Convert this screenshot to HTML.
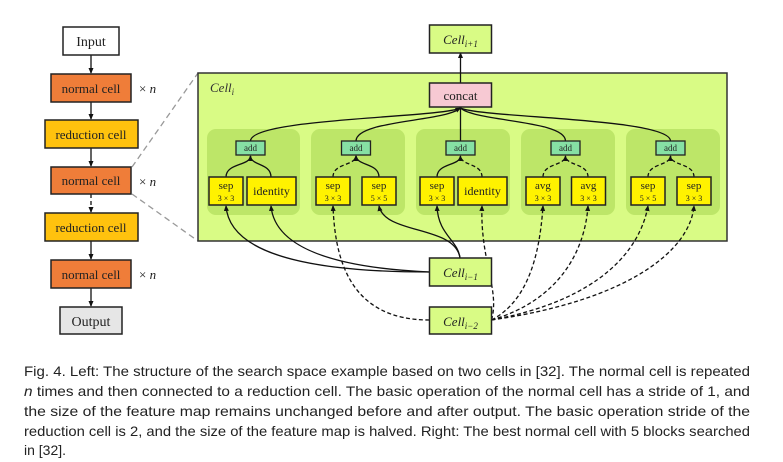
<!DOCTYPE html>
<html><head><meta charset="utf-8"><style>
html,body{margin:0;padding:0;background:#fff;}
svg{display:block;}
text{font-family:"Liberation Serif",serif;}
.cap{font-family:"Liberation Sans",sans-serif;font-size:14px;fill:#222;}
</style></head><body>
<svg width="783" height="462" viewBox="0 0 783 462" xmlns="http://www.w3.org/2000/svg">
<defs>
<marker id="ar" markerWidth="6" markerHeight="6" refX="5" refY="3" orient="auto" markerUnits="userSpaceOnUse"><path d="M0,0.5 L6,3 L0,5.5 z" fill="#111"/></marker>
</defs>
<!-- left column -->
<g stroke="#111" stroke-width="1.3" fill="none">
<line x1="91" y1="55" x2="91" y2="73" marker-end="url(#ar)"/>
<line x1="91" y1="102" x2="91" y2="119" marker-end="url(#ar)"/>
<line x1="91" y1="148" x2="91" y2="166" marker-end="url(#ar)"/>
<line x1="91" y1="194" x2="91" y2="212" stroke-dasharray="4,3" marker-end="url(#ar)"/>
<line x1="91" y1="241" x2="91" y2="259" marker-end="url(#ar)"/>
<line x1="91" y1="288" x2="91" y2="306" marker-end="url(#ar)"/>
</g>
<g stroke="#999" stroke-width="1.3" stroke-dasharray="6,4">
<line x1="132" y1="167" x2="198" y2="73"/>
<line x1="132" y1="194" x2="198" y2="241"/>
</g>
<g stroke="#222" stroke-width="1.5" font-size="13" text-anchor="middle">
<rect x="63" y="27" width="56" height="28" fill="#fff"/>
<rect x="51" y="74" width="80" height="28" fill="#ef7d39"/>
<rect x="45" y="120" width="93" height="28" fill="#ffc20e"/>
<rect x="51" y="167" width="80" height="27" fill="#ef7d39"/>
<rect x="45" y="213" width="93" height="28" fill="#ffc20e"/>
<rect x="51" y="260" width="80" height="28" fill="#ef7d39"/>
<rect x="60" y="307" width="62" height="27" fill="#e6e6e6"/>
</g>
<g font-size="13" text-anchor="middle" fill="#222">
<text x="91" y="46" font-size="14">Input</text>
<text x="91" y="93">normal cell</text>
<text x="91" y="139">reduction cell</text>
<text x="91" y="185">normal cell</text>
<text x="91" y="232">reduction cell</text>
<text x="91" y="279">normal cell</text>
<text x="91" y="326" font-size="14">Output</text>
</g>
<g font-size="13" fill="#222">
<text x="139" y="93">× <tspan font-style="italic">n</tspan></text>
<text x="139" y="186">× <tspan font-style="italic">n</tspan></text>
<text x="139" y="279">× <tspan font-style="italic">n</tspan></text>
</g>

<!-- right -->
<rect x="198" y="73" width="529" height="168" fill="#d9fb85" stroke="#333" stroke-width="1.5"/>
<g fill="#bde668">
<rect x="207" y="129" width="93" height="86" rx="9"/>
<rect x="311" y="129" width="94" height="86" rx="9"/>
<rect x="416" y="129" width="94" height="86" rx="9"/>
<rect x="521" y="129" width="94" height="86" rx="9"/>
<rect x="626" y="129" width="94" height="86" rx="9"/>
</g>
<text x="210" y="92" font-size="13" font-style="italic" fill="#333">Cell<tspan font-size="9" dy="3">i</tspan></text>

<g stroke="#111" stroke-width="1.3" fill="none">
<line x1="460.5" y1="83" x2="460.5" y2="53" marker-end="url(#ar)"/>
<!-- concat to adds -->
<path d="M250.5,141 C250.5,118 440,118 460.5,108" marker-end="url(#ar)"/>
<path d="M356,141 C356,120 445,122 460.5,108"/>
<path d="M460.5,141 L460.5,108"/>
<path d="M565.5,141 C565.5,120 476,122 460.5,108"/>
<path d="M670.5,141 C670.5,118 481,118 460.5,108"/>
<!-- op to add solid -->
<path d="M226,177 C226,163 250,166 250.5,156" marker-end="url(#ar)"/>
<path d="M271,177 C271,163 251,166 250.5,156"/>
<path d="M379,177 C379,163 357,166 356,156" marker-end="url(#ar)"/>
<path d="M437,177 C437,163 460,166 460.5,156" marker-end="url(#ar)"/>
<!-- cell i-1 solid -->
<path d="M429.5,272 C330,272 230,260 226,206" marker-end="url(#ar)"/>
<path d="M429.5,272 C340,268 275,250 271,206" marker-end="url(#ar)"/>
<path d="M460,258 C455,225 385,235 379,206" marker-end="url(#ar)"/>
<path d="M460,258 C458,240 438,235 437,206" marker-end="url(#ar)"/>
</g>
<g stroke="#111" stroke-width="1.3" fill="none" stroke-dasharray="4,2.5">
<path d="M333,177 C333,163 355,166 356,156" marker-end="url(#ar)"/>
<path d="M482,177 C482,163 461,166 460.5,156"/>
<path d="M543,177 C543,163 565,166 565.5,156" marker-end="url(#ar)"/>
<path d="M588,177 C588,163 566,166 565.5,156"/>
<path d="M648,177 C648,163 670,166 670.5,156" marker-end="url(#ar)"/>
<path d="M694,177 C694,163 671,166 670.5,156"/>
<!-- cell i-2 -->
<path d="M429.5,320 C350,320 335,260 333,206" marker-end="url(#ar)"/>
<path d="M491.5,320 C500,290 480,260 482,206" marker-end="url(#ar)"/>
<path d="M491.5,320 C530,300 540,250 543,206" marker-end="url(#ar)"/>
<path d="M491.5,320 C560,300 585,250 588,206" marker-end="url(#ar)"/>
<path d="M491.5,320 C600,300 640,250 648,206" marker-end="url(#ar)"/>
<path d="M491.5,320 C630,300 690,250 694,206" marker-end="url(#ar)"/>
</g>

<g stroke="#222" stroke-width="1.5">
<rect x="429.5" y="25" width="62" height="28" fill="#d9fb85"/>
<rect x="429.5" y="83" width="62" height="24" fill="#f7c9d3"/>
<rect x="429.5" y="258" width="62" height="28" fill="#d9fb85"/>
<rect x="429.5" y="307" width="62" height="27" fill="#d9fb85"/>
</g>
<g stroke="#222" stroke-width="1.3" fill="#86e0a4">
<rect x="236" y="141" width="29" height="14"/>
<rect x="341.5" y="141" width="29" height="14"/>
<rect x="446" y="141" width="29" height="14"/>
<rect x="551" y="141" width="29" height="14"/>
<rect x="656" y="141" width="29" height="14"/>
</g>
<g stroke="#222" stroke-width="1.5" fill="#fff200">
<rect x="209" y="177" width="34" height="28"/>
<rect x="247" y="177" width="49" height="28"/>
<rect x="316" y="177" width="34" height="28"/>
<rect x="362" y="177" width="34" height="28"/>
<rect x="420" y="177" width="34" height="28"/>
<rect x="458" y="177" width="49" height="28"/>
<rect x="526" y="177" width="34" height="28"/>
<rect x="571.5" y="177" width="34" height="28"/>
<rect x="631" y="177" width="34" height="28"/>
<rect x="677" y="177" width="34" height="28"/>
</g>
<g text-anchor="middle" fill="#222">
<g font-size="13" font-style="italic">
<text x="460.5" y="44">Cell<tspan font-size="9" dy="3">i+1</tspan></text>
<text x="460.5" y="277">Cell<tspan font-size="9" dy="3">i−1</tspan></text>
<text x="460.5" y="326">Cell<tspan font-size="9" dy="3">i−2</tspan></text>
</g>
<text x="460.5" y="100" font-size="13">concat</text>
<g font-size="9">
<text x="250.5" y="151">add</text><text x="356" y="151">add</text><text x="460.5" y="151">add</text><text x="565.5" y="151">add</text><text x="670.5" y="151">add</text>
</g>
<g font-size="11">
<text x="226" y="189">sep</text><text x="333" y="189">sep</text><text x="379" y="189">sep</text><text x="437" y="189">sep</text>
<text x="543" y="189">avg</text><text x="588.5" y="189">avg</text><text x="648" y="189">sep</text><text x="694" y="189">sep</text>
<text x="271.5" y="195" font-size="12">identity</text><text x="482.5" y="195" font-size="12">identity</text>
</g>
<g font-size="8">
<text x="226" y="201">3 × 3</text><text x="333" y="201">3 × 3</text><text x="379" y="201">5 × 5</text><text x="437" y="201">3 × 3</text>
<text x="543" y="201">3 × 3</text><text x="588.5" y="201">3 × 3</text><text x="648" y="201">5 × 5</text><text x="694" y="201">3 × 3</text>
</g>
</g>

<!-- caption -->
<text class="cap" x="24" y="376" textLength="726" lengthAdjust="spacingAndGlyphs">Fig. 4.  Left: The structure of the search space example based on two cells in [32]. The normal cell is repeated</text>
<text class="cap" x="24" y="396" textLength="726" lengthAdjust="spacingAndGlyphs"><tspan font-style="italic">n</tspan> times and then connected to a reduction cell. The basic operation of the normal cell has a stride of 1, and</text>
<text class="cap" x="24" y="416" textLength="726" lengthAdjust="spacingAndGlyphs">the size of the feature map remains unchanged before and after output. The basic operation stride of the</text>
<text class="cap" x="24" y="436" textLength="726" lengthAdjust="spacingAndGlyphs">reduction cell is 2, and the size of the feature map is halved. Right: The best normal cell with 5 blocks searched</text>
<text class="cap" x="24" y="455" textLength="42" lengthAdjust="spacingAndGlyphs">in [32].</text>
</svg>
</body></html>
